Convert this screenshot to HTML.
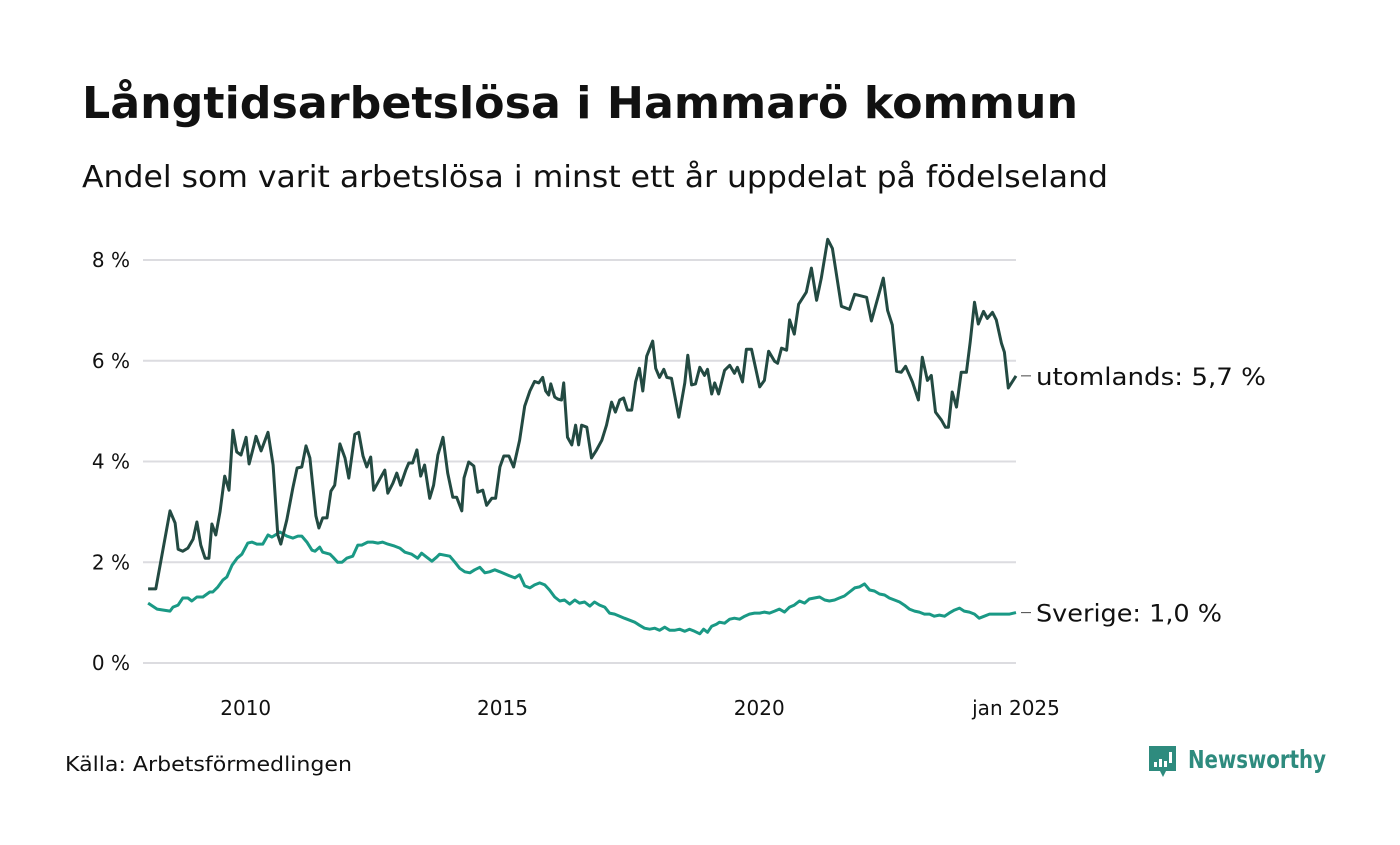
<!DOCTYPE html>
<html><head><meta charset="utf-8"><style>
body{margin:0;background:#fff;}
svg text{font-family:"DejaVu Sans","Liberation Sans",sans-serif;}
</style></head><body>
<svg id="chart" width="1400" height="840" viewBox="0 0 1400 840" xmlns="http://www.w3.org/2000/svg">
<rect width="1400" height="840" fill="#fff"/>
<text x="82" y="118" font-size="44" font-weight="bold" fill="#111" textLength="996" lengthAdjust="spacingAndGlyphs">Långtidsarbetslösa i Hammarö kommun</text>
<text x="82" y="187" font-size="30" fill="#111" textLength="1026" lengthAdjust="spacingAndGlyphs">Andel som varit arbetslösa i minst ett år uppdelat på födelseland</text>
<g id="grid"></g>
<g id="yticks"></g>
<g id="xticks"></g>
<g id="series"></g>
<g id="labels"></g>
<text x="65" y="771" font-size="20" fill="#111" textLength="287" lengthAdjust="spacingAndGlyphs">Källa: Arbetsförmedlingen</text>
<g>
<path d="M1149 746 h27 v25 h-10 l-3 6 l-3 -6 h-11 z" fill="#2e8b7e"/>
<rect x="1154" y="762" width="3" height="5" fill="#fff"/>
<rect x="1159" y="759" width="3" height="8" fill="#fff"/>
<rect x="1164" y="761" width="3" height="6" fill="#fff"/>
<rect x="1169" y="752" width="3" height="11" fill="#fff"/>
<text x="1188" y="768" font-size="25" font-weight="bold" fill="#2e8b7e" textLength="138" lengthAdjust="spacingAndGlyphs">Newsworthy</text>
</g>
</svg>
<script>
const yTicks=[0,2,4,6,8];
const yTickLabels=["0 %","2 %","4 %","6 %","8 %"];
const xTickMonths=[24,84,144,204];
const xTickLabels=["2010","2015","2020","jan 2025"];
const utlMonths=[1.2,3,6.3,7.5,8.2,9.3,10.5,11.7,12.6,13.5,14.5,15.4,16.1,17,18,19.1,20.1,21,21.9,22.9,24.1,24.8,25.9,26.4,27.6,29.2,30.4,31.5,32.2,33.6,35,36,37.1,38.1,39,40.4,41.1,42,43,43.9,44.8,46,47.2,48.1,49.5,50.4,51.4,52.3,53.2,53.9,55.6,56.5,57.2,58.4,59.3,60.2,61.4,62.1,63,64,64.9,65.8,67,67.9,68.9,70.1,71.2,72.4,73.3,74.5,75,76.1,77.3,78.2,79.4,80.3,81.5,82.4,83.4,84.3,85.5,86.6,88,89.2,90.4,91.5,92.5,93.4,94.1,94.8,95.3,96.2,96.9,97.8,98.3,99.2,100.2,101.1,101.8,102.5,103.7,104.8,106,107.2,108.3,109.5,110.4,111.4,112.3,113.2,114.2,115.1,116,116.8,117.7,119.1,119.8,120.7,121.7,122.4,123.5,125.2,126.6,127.3,128.2,129.1,130.1,131.2,131.9,132.9,133.6,134.5,135.9,137.1,138.2,138.9,140.1,141,142.2,144.1,145.2,146.2,147.6,148.3,149.2,150.4,151.1,152.2,153.2,155,156.2,157.4,158.5,160,161.1,163.2,165.1,166.3,169.1,170.2,173,174,175.1,176.1,177.2,178.2,179.8,181.2,182.1,183.3,184.2,185.2,186.6,187.5,188.2,189.1,190.1,191.2,192.4,193.3,194.3,195.2,196.4,197.3,198.5,199.4,200.6,201.3,202.2,204];
const utlValues=[1.47,1.47,3.02,2.78,2.26,2.22,2.28,2.46,2.8,2.34,2.08,2.08,2.76,2.54,3,3.71,3.43,4.62,4.19,4.13,4.48,3.95,4.31,4.5,4.21,4.58,3.93,2.54,2.36,2.84,3.47,3.87,3.89,4.31,4.07,2.92,2.68,2.88,2.88,3.41,3.53,4.35,4.07,3.67,4.54,4.58,4.11,3.89,4.09,3.43,3.69,3.83,3.37,3.57,3.77,3.53,3.83,3.97,3.97,4.23,3.71,3.93,3.27,3.53,4.13,4.48,3.77,3.29,3.29,3.02,3.67,3.99,3.91,3.39,3.43,3.13,3.27,3.27,3.89,4.11,4.11,3.89,4.42,5.1,5.4,5.59,5.56,5.67,5.4,5.32,5.54,5.28,5.24,5.22,5.56,4.48,4.33,4.72,4.33,4.72,4.68,4.07,4.23,4.42,4.72,5.18,4.98,5.22,5.26,5.02,5.02,5.58,5.85,5.4,6.09,6.39,5.85,5.67,5.83,5.67,5.65,4.88,5.56,6.11,5.52,5.54,5.87,5.71,5.83,5.34,5.56,5.34,5.81,5.91,5.75,5.87,5.58,6.23,6.23,5.48,5.61,6.19,5.99,5.95,6.25,6.21,6.81,6.53,7.12,7.36,7.84,7.2,7.64,8.41,8.23,7.08,7.02,7.32,7.26,6.79,7.64,7,6.71,5.79,5.77,5.89,5.58,5.22,6.07,5.61,5.71,4.98,4.82,4.68,4.68,5.38,5.08,5.77,5.77,6.37,7.16,6.73,6.98,6.84,6.96,6.81,6.35,6.17,5.46,5.7];
const sveMonths=[1.2,3.3,6.3,7,8.2,9.3,10.5,11.4,12.6,14,15.6,16.3,17.5,18.7,19.6,20.8,22,23.1,24.5,25.5,26.6,28,29.2,30.1,31.3,32,33.6,35,36.2,37.1,38.3,39.5,40.2,41.3,42,43.7,44.4,45.5,46.5,47.6,49,50.2,51.1,52.5,53.7,54.9,56,57.2,58.8,60,61.2,62.8,64.2,65.1,66.3,67.5,68.6,69.3,70.5,71.7,72.9,74,75.2,76.4,77.5,78.7,79.9,81,82.2,83.4,84.5,85.7,86.9,88,89.2,90.4,91.5,92.7,93.9,95,96.2,97.4,98.5,99.7,100.9,102,103.2,104.4,105.5,106.7,107.9,109,110.2,111.4,112.5,113.7,114.9,116,117.2,118.4,119.6,120.7,121.9,123.1,124.2,125.4,126.6,127.7,128.9,130.1,131,131.9,132.9,134,134.7,135.9,137.1,138.2,139.4,140.6,141.7,142.9,144.1,145.2,146.4,147.6,148.7,149.9,151.1,152.2,153.4,154.6,155.7,156.9,158.1,159.3,160.4,161.6,162.7,163.9,165.1,166.3,167.4,168.6,169.8,170.9,172.1,173.3,174.4,175.6,176.8,177.9,179.1,180.3,181.4,182.6,183.8,184.9,186.1,187.3,188.4,189.6,190.8,191.9,193.1,194.3,195.4,196.6,197.8,198.9,200.1,201.3,202.5,204];
const sveValues=[1.19,1.07,1.03,1.11,1.15,1.29,1.29,1.23,1.31,1.31,1.41,1.41,1.51,1.65,1.71,1.94,2.08,2.16,2.38,2.4,2.36,2.36,2.54,2.5,2.56,2.6,2.52,2.48,2.52,2.52,2.4,2.24,2.22,2.3,2.2,2.16,2.1,2,2,2.08,2.12,2.34,2.34,2.4,2.4,2.38,2.4,2.36,2.32,2.28,2.2,2.16,2.08,2.18,2.1,2.02,2.1,2.16,2.14,2.12,2,1.88,1.81,1.79,1.85,1.9,1.79,1.81,1.85,1.81,1.77,1.73,1.69,1.75,1.53,1.49,1.55,1.59,1.55,1.45,1.31,1.23,1.25,1.17,1.25,1.19,1.21,1.13,1.21,1.15,1.11,0.99,0.97,0.93,0.89,0.85,0.81,0.75,0.69,0.67,0.69,0.65,0.71,0.65,0.65,0.67,0.63,0.67,0.63,0.58,0.67,0.61,0.73,0.77,0.81,0.79,0.87,0.89,0.87,0.93,0.97,0.99,0.99,1.01,0.99,1.03,1.07,1.01,1.11,1.15,1.23,1.19,1.27,1.29,1.31,1.25,1.23,1.25,1.29,1.33,1.41,1.49,1.51,1.57,1.45,1.43,1.37,1.35,1.29,1.25,1.21,1.15,1.07,1.03,1.01,0.97,0.97,0.93,0.95,0.93,0.99,1.05,1.09,1.03,1.01,0.97,0.89,0.93,0.97,0.97,0.97,0.97,0.97,1.0];
const seriesNames=["utomlands","Sverige"];
const seriesLabels=["utomlands: 5,7 %","Sverige: 1,0 %"];

const NS="http://www.w3.org/2000/svg";
const X0=143,X1=1016,Y0=663,Y8=260;
function xScale(m){return X0+(X1-X0)*m/204;}
function yScale(v){return Y0-(Y0-Y8)*v/8;}
function mk(tag,attrs,parent){const e=document.createElementNS(NS,tag);for(const k in attrs)e.setAttribute(k,attrs[k]);parent.appendChild(e);return e;}
const grid=document.getElementById('grid'),yt=document.getElementById('yticks'),xt=document.getElementById('xticks'),ser=document.getElementById('series'),lab=document.getElementById('labels');
yTicks.forEach((v,i)=>{
  const l=mk('line',{x1:X0,x2:X1,y1:yScale(v),y2:yScale(v),stroke:'#dcdce0','stroke-width':2},grid);
  
  
  const t=mk('text',{x:130,y:yScale(v)+7,'font-size':20,'text-anchor':'end',fill:'#111'},yt);
  t.textContent=yTickLabels[i];
  
  
});
xTickMonths.forEach((m,i)=>{
  const t=mk('text',{x:xScale(m),y:715,'font-size':20,'text-anchor':'middle',fill:'#111'},xt);
  t.textContent=xTickLabels[i];
  
  
});
function drawLine(ms,vs,color,name){
  const d=ms.map((m,i)=>(i?'L':'M')+xScale(m).toFixed(1)+' '+yScale(vs[i]).toFixed(1)).join(' ');
  const p=mk('path',{d:d,fill:'none',stroke:color,'stroke-width':3,'stroke-linejoin':'round'},ser);
  
  
}
drawLine(sveMonths,sveValues,'#1a9985','line-sverige');
drawLine(utlMonths,utlValues,'#234a42','line-utomlands');
const labelWidths=[230,186];
[[utlValues[utlValues.length-1],seriesLabels[0]],[sveValues[sveValues.length-1],seriesLabels[1]]].forEach((a,i)=>{
  const y=yScale(a[0]);
  mk('line',{x1:1021,x2:1031,y1:y,y2:y,stroke:'#444','stroke-width':1},lab);
  const t=mk('text',{x:1036,y:y+9,'font-size':24,fill:'#111',textLength:labelWidths[i],lengthAdjust:'spacingAndGlyphs'},lab);
  t.textContent=a[1];
  
  
});
</script>
</body></html>
